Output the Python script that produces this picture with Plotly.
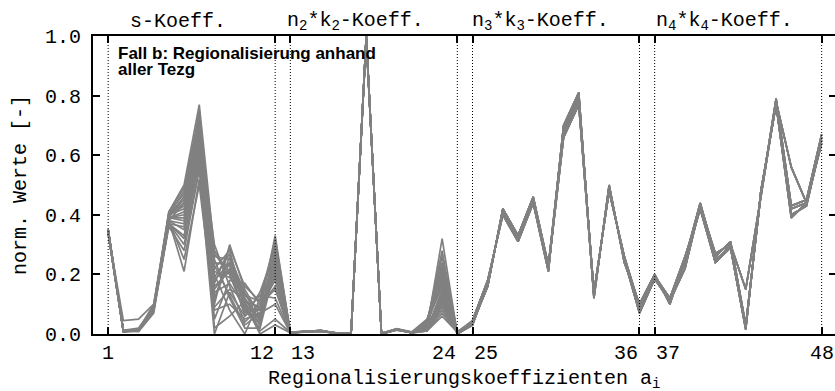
import plotly.graph_objects as go

# ---------------- data ----------------
coef_index = list(range(1, 49))
dividers = [1, 12, 13, 24, 25, 36, 37, 48]
tick_vals_x = [1, 12, 13, 24, 25, 36, 37, 48]
tick_text_x = ["1", "12", "13", "24", "25", "36", "37", "48"]
tick_anchor_x = ["center", "right", "left", "right", "left", "right", "left", "center"]
tick_vals_y = [0.0, 0.2, 0.4, 0.6, 0.8, 1.0]
tick_text_y = ["0.0", "0.2", "0.4", "0.6", "0.8", "1.0"]

group_labels = ["s-Koeff.", "n<sub>2</sub>*k<sub>2</sub>-Koeff.",
                "n<sub>3</sub>*k<sub>3</sub>-Koeff.", "n<sub>4</sub>*k<sub>4</sub>-Koeff."]
group_label_pos = [5.6, 17.3, 29.5, 41.6]

# s-Koeff. (coefficients 1..12), one row per realisation
s_koeff = [
    [0.35, 0.010, 0.010, 0.09, 0.40, 0.48, 0.74, 0.22, 0.28, 0.10, 0.05, 0.30],
    [0.34, 0.008, 0.012, 0.08, 0.38, 0.44, 0.70, 0.18, 0.24, 0.12, 0.03, 0.25],
    [0.35, 0.012, 0.015, 0.10, 0.41, 0.50, 0.77, 0.28, 0.20, 0.08, 0.08, 0.33],
    [0.34, 0.045, 0.050, 0.10, 0.39, 0.46, 0.66, 0.10, 0.30, 0.15, 0.06, 0.20],
    [0.35, 0.010, 0.008, 0.07, 0.37, 0.36, 0.60, 0.05, 0.18, 0.17, 0.10, 0.15],
    [0.34, 0.006, 0.010, 0.08, 0.36, 0.28, 0.55, 0.00, 0.14, 0.06, 0.14, 0.28],
    [0.35, 0.012, 0.020, 0.09, 0.40, 0.42, 0.62, 0.25, 0.12, 0.02, 0.02, 0.22],
    [0.34, 0.010, 0.010, 0.08, 0.38, 0.21, 0.52, 0.15, 0.22, 0.10, 0.00, 0.03],
    [0.35, 0.008, 0.012, 0.09, 0.39, 0.40, 0.68, 0.30, 0.16, 0.04, 0.09, 0.18],
    [0.34, 0.010, 0.015, 0.08, 0.37, 0.33, 0.58, 0.12, 0.26, 0.14, 0.04, 0.26],
    [0.35, 0.012, 0.010, 0.09, 0.41, 0.47, 0.72, 0.20, 0.08, 0.00, 0.12, 0.31],
    [0.34, 0.010, 0.012, 0.08, 0.38, 0.25, 0.50, 0.08, 0.10, 0.05, 0.07, 0.10],
    [0.35, 0.009, 0.010, 0.09, 0.40, 0.45, 0.64, 0.02, 0.06, 0.11, 0.01, 0.05],
    [0.34, 0.011, 0.014, 0.08, 0.39, 0.38, 0.70, 0.17, 0.29, 0.16, 0.11, 0.24],
    [0.35, 0.010, 0.012, 0.09, 0.37, 0.30, 0.56, 0.27, 0.20, 0.07, 0.13, 0.12],
    [0.34, 0.008, 0.010, 0.08, 0.40, 0.43, 0.75, 0.12, 0.24, 0.09, 0.03, 0.29],
    [0.35, 0.010, 0.012, 0.09, 0.39, 0.41, 0.66, 0.21, 0.19, 0.13, 0.08, 0.21],
    [0.34, 0.009, 0.011, 0.08, 0.38, 0.37, 0.63, 0.14, 0.17, 0.09, 0.06, 0.27],
    [0.35, 0.011, 0.013, 0.09, 0.40, 0.46, 0.71, 0.24, 0.23, 0.06, 0.10, 0.19],
    [0.34, 0.010, 0.010, 0.08, 0.37, 0.32, 0.59, 0.09, 0.15, 0.12, 0.05, 0.23],
    [0.35, 0.008, 0.012, 0.09, 0.41, 0.49, 0.73, 0.19, 0.27, 0.08, 0.02, 0.32],
    [0.34, 0.012, 0.014, 0.08, 0.39, 0.39, 0.65, 0.16, 0.21, 0.11, 0.09, 0.16],
    [0.35, 0.010, 0.010, 0.09, 0.38, 0.35, 0.61, 0.23, 0.13, 0.03, 0.07, 0.26],
    [0.34, 0.009, 0.012, 0.08, 0.40, 0.44, 0.69, 0.26, 0.25, 0.13, 0.11, 0.30],
]

# n2*k2-Koeff. (coefficients 13..24)
n2k2_koeff = [
    [0.005, 0.008, 0.010, 0.003, 0.000, 1.000, 0.000, 0.015, 0.005, 0.020, 0.32, 0.000],
    [0.004, 0.007, 0.009, 0.002, 0.002, 0.995, 0.003, 0.016, 0.006, 0.040, 0.26, 0.005],
    [0.006, 0.008, 0.011, 0.003, 0.000, 1.000, 0.000, 0.014, 0.004, 0.030, 0.22, 0.000],
    [0.005, 0.009, 0.010, 0.004, 0.003, 0.990, 0.002, 0.018, 0.007, 0.050, 0.18, 0.010],
    [0.003, 0.008, 0.010, 0.003, 0.000, 1.000, 0.000, 0.015, 0.005, 0.010, 0.15, 0.000],
    [0.005, 0.007, 0.012, 0.002, 0.001, 0.995, 0.001, 0.013, 0.005, 0.025, 0.12, 0.005],
    [0.006, 0.009, 0.010, 0.003, 0.000, 1.000, 0.000, 0.016, 0.006, 0.035, 0.10, 0.000],
    [0.004, 0.008, 0.009, 0.004, 0.002, 0.990, 0.003, 0.015, 0.004, 0.015, 0.08, 0.008],
    [0.005, 0.008, 0.011, 0.003, 0.000, 1.000, 0.000, 0.017, 0.005, 0.045, 0.20, 0.000],
    [0.005, 0.009, 0.010, 0.002, 0.001, 0.995, 0.002, 0.014, 0.006, 0.020, 0.14, 0.004],
    [0.006, 0.007, 0.010, 0.003, 0.000, 1.000, 0.000, 0.015, 0.005, 0.030, 0.24, 0.000],
    [0.004, 0.008, 0.012, 0.004, 0.002, 0.990, 0.001, 0.016, 0.004, 0.010, 0.06, 0.006],
    [0.005, 0.009, 0.010, 0.003, 0.000, 1.000, 0.000, 0.015, 0.006, 0.040, 0.16, 0.000],
    [0.006, 0.008, 0.009, 0.002, 0.001, 0.995, 0.002, 0.014, 0.005, 0.025, 0.11, 0.003],
    [0.004, 0.008, 0.011, 0.003, 0.000, 1.000, 0.000, 0.016, 0.005, 0.035, 0.28, 0.000],
    [0.005, 0.007, 0.010, 0.004, 0.002, 0.995, 0.001, 0.015, 0.004, 0.015, 0.09, 0.007],
    [0.005, 0.008, 0.010, 0.003, 0.000, 1.000, 0.000, 0.015, 0.005, 0.030, 0.19, 0.000],
    [0.004, 0.009, 0.011, 0.002, 0.001, 0.995, 0.002, 0.016, 0.006, 0.020, 0.13, 0.004],
    [0.006, 0.008, 0.010, 0.003, 0.000, 1.000, 0.000, 0.014, 0.005, 0.045, 0.21, 0.000],
    [0.005, 0.007, 0.009, 0.004, 0.002, 0.990, 0.001, 0.015, 0.004, 0.010, 0.07, 0.006],
    [0.005, 0.008, 0.012, 0.003, 0.000, 1.000, 0.000, 0.016, 0.006, 0.035, 0.17, 0.000],
    [0.004, 0.009, 0.010, 0.002, 0.001, 0.995, 0.002, 0.015, 0.005, 0.025, 0.12, 0.003],
    [0.006, 0.008, 0.011, 0.003, 0.000, 1.000, 0.000, 0.014, 0.005, 0.040, 0.23, 0.000],
    [0.005, 0.007, 0.010, 0.004, 0.002, 0.995, 0.001, 0.016, 0.004, 0.015, 0.10, 0.005],
]

# n3*k3-Koeff. (coefficients 25..36)
n3k3_koeff = [
    [0.040, 0.17, 0.41, 0.32, 0.45, 0.22, 0.68, 0.80, 0.13, 0.49, 0.25, 0.090],
    [0.035, 0.16, 0.42, 0.33, 0.46, 0.23, 0.67, 0.79, 0.14, 0.48, 0.26, 0.080],
    [0.045, 0.18, 0.40, 0.31, 0.44, 0.21, 0.70, 0.81, 0.12, 0.50, 0.24, 0.100],
    [0.030, 0.17, 0.41, 0.32, 0.45, 0.22, 0.66, 0.77, 0.13, 0.49, 0.25, 0.070],
    [0.040, 0.16, 0.42, 0.33, 0.44, 0.23, 0.69, 0.78, 0.14, 0.48, 0.26, 0.095],
]

# n4*k4-Koeff. (coefficients 37..48)
n4k4_koeff = [
    [0.195, 0.11, 0.25, 0.43, 0.24, 0.30, 0.025, 0.47, 0.78, 0.42, 0.44, 0.66],
    [0.190, 0.12, 0.24, 0.42, 0.25, 0.29, 0.015, 0.48, 0.77, 0.40, 0.43, 0.65],
    [0.200, 0.10, 0.25, 0.44, 0.26, 0.31, 0.030, 0.47, 0.79, 0.43, 0.45, 0.67],
    [0.185, 0.11, 0.22, 0.43, 0.27, 0.30, 0.150, 0.46, 0.78, 0.56, 0.44, 0.64],
    [0.195, 0.12, 0.26, 0.42, 0.24, 0.29, 0.020, 0.48, 0.77, 0.39, 0.44, 0.66],
]

# ---------------- figure ----------------
LINE_GREY = "rgb(128,128,128)"
MONO = "Liberation Mono, Courier New, monospace"
SANS = "Liberation Sans, Arial, sans-serif"

fig = go.Figure()

for k in range(len(s_koeff)):
    values = (s_koeff[k] + n2k2_koeff[k]
              + n3k3_koeff[k % len(n3k3_koeff)] + n4k4_koeff[k % len(n4k4_koeff)])
    fig.add_trace(go.Scatter(x=coef_index, y=values, mode="lines",
                             line=dict(color=LINE_GREY, width=1.7),
                             showlegend=False, hoverinfo="skip"))

# invisible trace so the right-hand tick axis is drawn
fig.add_trace(go.Scatter(x=[], y=[], yaxis="y2", showlegend=False, hoverinfo="skip"))

for d in dividers:
    fig.add_shape(type="line", xref="x", yref="y", x0=d, x1=d, y0=0, y1=1,
                  line=dict(color="black", width=1, dash="1px,2px"), layer="above")

# x tick labels (placed individually so neighbouring labels sit either side of their tick)
for val, txt, anc in zip(tick_vals_x, tick_text_x, tick_anchor_x):
    fig.add_annotation(text=txt, x=val, xref="x", y=-0.067, yref="paper",
                       xanchor=anc, yanchor="middle", showarrow=False, borderpad=0,
                       font=dict(family=MONO, size=20, color="black"))

for lab, pos in zip(group_labels, group_label_pos):
    fig.add_annotation(text=lab, x=pos, xref="x", y=1.05, yref="paper",
                       xanchor="center", yanchor="middle", showarrow=False,
                       font=dict(family=MONO, size=20, color="black"))

fig.add_annotation(text="<b>Fall b: Regionalisierung anhand</b>", x=0.031, xref="paper",
                   y=0.940, yref="paper", xanchor="left", yanchor="middle",
                   showarrow=False, font=dict(family=SANS, size=17, color="black"))
fig.add_annotation(text="<b>aller Tezg</b>", x=0.031, xref="paper",
                   y=0.888, yref="paper", xanchor="left", yanchor="middle",
                   showarrow=False, font=dict(family=SANS, size=17, color="black"))

fig.add_annotation(text="norm. Werte [-]", x=-0.0985, xref="paper", y=0.5, yref="paper",
                   textangle=-90, xanchor="center", yanchor="middle", showarrow=False,
                   font=dict(family=MONO, size=20, color="black"))
fig.add_annotation(text="Regionalisierungskoeffizienten a<sub>i</sub>", x=0.5, xref="paper",
                   y=-0.154, yref="paper", xanchor="center", yanchor="middle",
                   showarrow=False, font=dict(family=MONO, size=20, color="black"))

fig.update_layout(
    width=835, height=391,
    margin=dict(l=93, r=0, t=36, b=57, autoexpand=False),
    paper_bgcolor="white", plot_bgcolor="white",
    xaxis=dict(range=[0, 48.88], tickmode="array", tickvals=tick_vals_x,
               showticklabels=False, automargin=False,
               ticks="inside", ticklen=7, tickwidth=1.5, tickcolor="black",
               showline=True, linecolor="black", linewidth=2, mirror="ticks",
               showgrid=False, zeroline=False),
    yaxis=dict(range=[0, 1], tickmode="array", tickvals=tick_vals_y, ticktext=tick_text_y,
               automargin=False,
               ticks="inside", ticklen=7, tickwidth=1.5, tickcolor="black",
               showline=True, linecolor="black", linewidth=2, mirror=False,
               showgrid=False, zeroline=False, ticklabelstandoff=6,
               tickfont=dict(family=MONO, size=20, color="black")),
    yaxis2=dict(range=[0, 1], overlaying="y", side="right", tickmode="array",
                tickvals=tick_vals_y, ticks="inside", ticklen=6, tickwidth=1.5,
                automargin=False,
                tickcolor="black", showticklabels=False, showline=False,
                showgrid=False, zeroline=False),
)

# remove the default page margin so the 835x391 figure fills the window exactly
fig.write_html("out.html",
               config={"displayModeBar": False},
               post_script="document.body.style.margin='0';"
                           "document.body.style.overflow='hidden';")
